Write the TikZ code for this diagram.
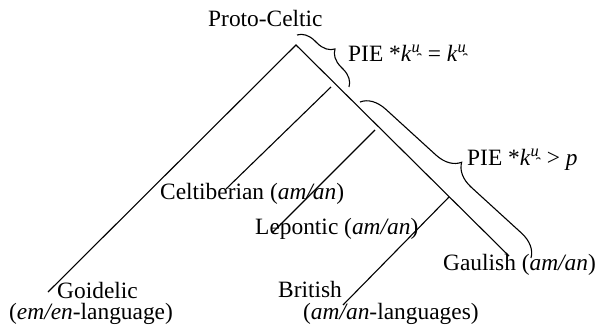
\documentclass[tikz,border=0pt]{standalone}
\usepackage{fontspec}
\setmainfont{Liberation Serif}
\usetikzlibrary{decorations.pathreplacing}
\newcommand{\kw}{\textit{k}\textsuperscript{\textit{u̯}}}
\begin{document}
\begin{tikzpicture}[x=1pt,y=-1pt,
  lbl/.style={anchor=base west,inner sep=0pt,font=\fontsize{23.4}{26}\selectfont},
  branch/.style={line width=1.1pt},
  bracedeco/.style={line width=1.1pt,decorate,decoration={brace,amplitude=#1}}]
\useasboundingbox (0,0) rectangle (600,334);
% labels
\node[lbl] (proto) at (208,27) {Proto-Celtic};
\node[lbl] (pieA) at (348,62) {PIE *\kw{} = \kw};
\node[lbl] (pieB) at (467,166) {PIE *\kw{} > \textit{p}};
\node[lbl] (celt) at (160,200) {Celtiberian (\textit{am/an})};
\node[lbl] (lep) at (255,234) {Lepontic (\textit{am/an})};
\node[lbl] (gaul) at (443,270) {Gaulish (\textit{am/an})};
\node[lbl] (goidA) at (57,298) {Goidelic};
\node[lbl] (goidB) at (9,319) {(\textit{em/en}-language)};
\node[lbl] (britA) at (278,297) {British};
\node[lbl] (britB) at (303,319) {(\textit{am/an}-languages)};
% tree points
\coordinate (apex) at (296,45);
\coordinate (goidE) at (48,292);
\coordinate (gaulE) at (509,256);
\coordinate (celtS) at (331,87);
\coordinate (celtE) at (226,189);
\coordinate (lepS) at (375,130);
\coordinate (lepE) at (272,233);
\coordinate (britS) at (449,197);
\coordinate (britE) at (343,305);
\draw[branch] (goidE) -- (apex) -- (gaulE);
\draw[branch] (celtS) -- (celtE);
\draw[branch] (lepS) -- (lepE);
\draw[branch] (britS) -- (britE);
% braces
\coordinate (bAs) at (297,35);
\coordinate (bAe) at (349,87);
\coordinate (bBs) at (360,102);
\coordinate (bBe) at (531,258);
\draw[bracedeco=17pt] (bAs) -- (bAe);
\draw[bracedeco=24pt] (bBs) -- (bBe);
\end{tikzpicture}
\end{document}
